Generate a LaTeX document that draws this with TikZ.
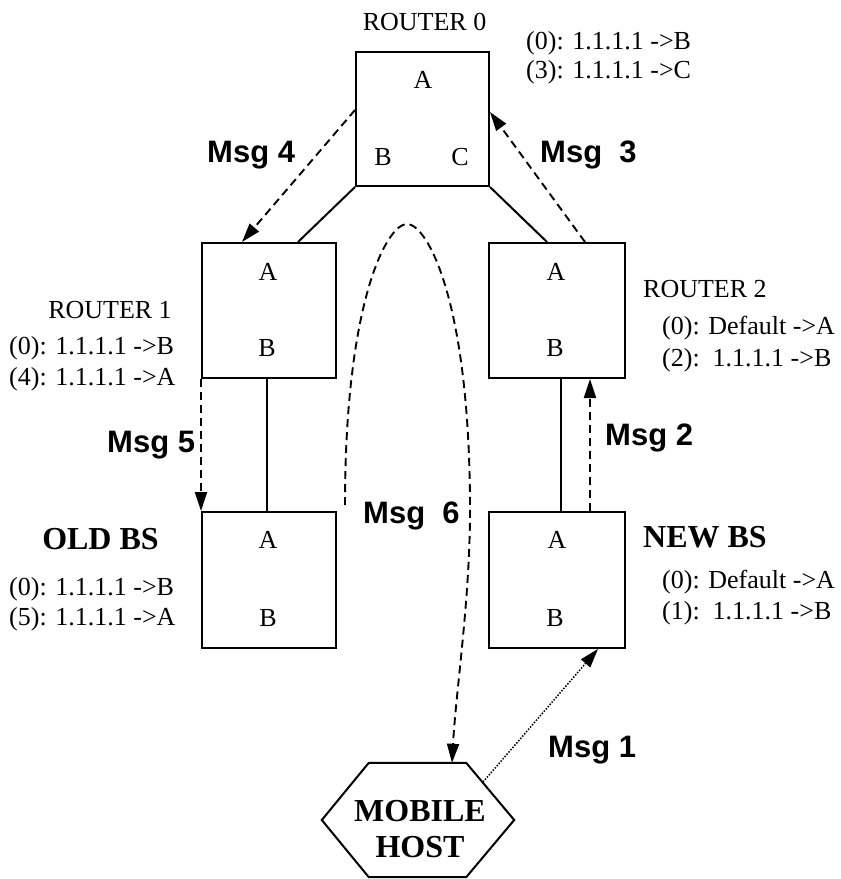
\documentclass[tikz,border=0pt]{standalone}
\usepackage{fontspec}
\setmainfont{Liberation Serif}
\newfontfamily\msgfont{Liberation Sans}
\usetikzlibrary{arrows.meta,calc}
\begin{document}
\begin{tikzpicture}[x=1pt,y=-1pt,
  box/.style={draw, line width=2pt, minimum width=134pt, minimum height=135pt, inner sep=0},
  lbl/.style={font=\fontsize{26}{30}\selectfont, inner sep=0},
  tbl/.style={lbl, anchor=west},
  msg/.style={font=\msgfont\bfseries\fontsize{31}{34}\selectfont, inner sep=0},
  bsname/.style={font=\bfseries\fontsize{32}{36}\selectfont, inner sep=0},
  link/.style={line width=2pt},
  tip/.style={-{Triangle[length=19pt,width=12pt]}},
  dashmsg/.style={line width=1.9pt, dash pattern=on 8pt off 5pt, tip},
  dotmsg/.style={line width=1.5pt, dash pattern=on 1.5pt off 1.5pt, tip}]
\useasboundingbox (0,0) rectangle (841,879);

% routers and base stations
\node[box, minimum width=133pt, minimum height=134pt] (r0) at (422.5,119) {};
\node[box] (r1) at (269,310.5) {};
\node[box, minimum width=136pt] (r2) at (557,310.5) {};
\node[box, minimum height=136pt] (ob) at (269,580) {};
\node[box, minimum width=136pt, minimum height=136pt] (nb) at (557,580) {};

% interface letters
\node[lbl] (r0a) at (423,80) {A};
\node[lbl] (r0b) at (383,157) {B};
\node[lbl] (r0c) at (460,157) {C};
\node[lbl] (r1a) at (268,272) {A};
\node[lbl] (r1b) at (267,348) {B};
\node[lbl] (r2a) at (556,272) {A};
\node[lbl] (r2b) at (555,348) {B};
\node[lbl] (oba) at (268,540) {A};
\node[lbl] (obb) at (268,618) {B};
\node[lbl] (nba) at (557,540) {A};
\node[lbl] (nbb) at (555,618) {B};

% mobile host
\node[inner sep=0, minimum width=192pt, minimum height=114pt] (mh) at (418,820) {};
\draw[link] (mh.west) -- ([xshift=47pt]mh.north west) -- ([xshift=-48pt]mh.north east)
  -- (mh.east) -- ([xshift=-48pt]mh.south east) -- ([xshift=47pt]mh.south west) -- cycle;
\node[bsname] (mh1) at (420,811) {MOBILE};
\node[bsname] (mh2) at (420,847) {HOST};

% names and routing tables
\node[lbl] (n0) at (424.5,22) {ROUTER 0};
\node[tbl] (t0a) at (526,43) {(0): 1.1.1.1 ->B};
\node[tbl] (t0b) at (526,72) {(3): 1.1.1.1 ->C};

\node[lbl] (n1) at (110,310) {ROUTER 1};
\node[tbl] (t1a) at (9,348) {(0): 1.1.1.1 ->B};
\node[tbl] (t1b) at (9,379) {(4): 1.1.1.1 ->A};

\node[lbl, anchor=west] (n2) at (643,289) {ROUTER 2};
\node[tbl] (t2a) at (662,328) {(0): Default ->A};
\node[tbl] (t2b) at (662,360) {(2):\ \ 1.1.1.1 ->B};

\node[bsname] (n3) at (100.5,539) {OLD BS};
\node[tbl] (t3a) at (9,589) {(0): 1.1.1.1 ->B};
\node[tbl] (t3b) at (9,619) {(5): 1.1.1.1 ->A};

\node[bsname, anchor=west] (n4) at (643,537) {NEW BS};
\node[tbl] (t4a) at (662,582) {(0): Default ->A};
\node[tbl] (t4b) at (662,613) {(1):\ \ 1.1.1.1 ->B};

% links
\draw[link] (r0.south west) -- ([xshift=29pt]r1.north);
\draw[link] (r0.south east) -- ([xshift=-10pt]r2.north);
\draw[link] ([xshift=-2pt]r1.south) -- ([xshift=-2pt]ob.north);
\draw[link] ([xshift=4pt]r2.south) -- ([xshift=4pt]nb.north);

% messages
\draw[dashmsg] ([yshift=9pt]r0.west) -- ([xshift=-27pt]r1.north);
\draw[dashmsg] ([xshift=28pt]r2.north) -- ([yshift=7pt]r0.east);
\draw[dashmsg] (r1.south west) -- (ob.north west);
\draw[dashmsg] ([xshift=33pt]nb.north) -- ([xshift=33pt]r2.south);
\coordinate (m1s) at (483,782);
\draw[dotmsg] (m1s) -- ([xshift=41pt]nb.south);
\coordinate (m6s) at (345,505);
\draw[dashmsg] (m6s) .. controls (345,301) and (387,224) .. (407,224)
  .. controls (427,224) and (470,300) .. (470,510)
  .. controls (470,600) and (456,690) .. ([xshift=34pt]mh.north);

\node[msg, anchor=west] (l1) at (548,750) {Msg 1};
\node[msg, anchor=west] (l2) at (605,438) {Msg 2};
\node[msg, anchor=west] (l3) at (540,155) {Msg\ \ 3};
\node[msg, anchor=west] (l4) at (207,155) {Msg 4};
\node[msg, anchor=west] (l5) at (107,445) {Msg 5};
\node[msg, anchor=west] (l6) at (363,516) {Msg\ \ 6};
\end{tikzpicture}
\end{document}
